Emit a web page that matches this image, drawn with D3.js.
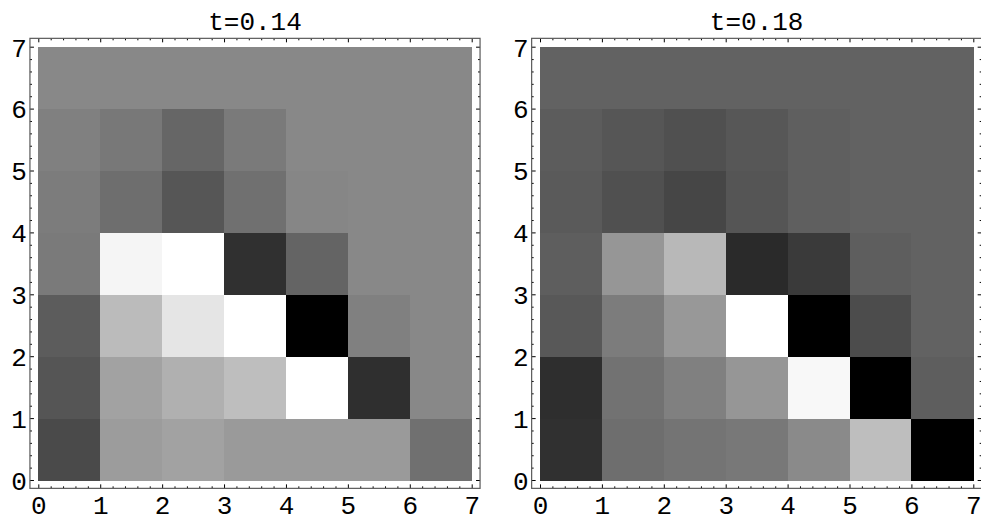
<!DOCTYPE html>
<html><head><meta charset="utf-8">
<script src="https://cdn.jsdelivr.net/npm/d3@7"></script>
<style>body{margin:0;background:#fff}svg{display:block}</style>
</head><body>
<svg id="chart" width="981" height="525"></svg>
<script>
// Panel titles
const titles = ["t=0.14", "t=0.18"];
// Tick labels
const tickValues = [0, 1, 2, 3, 4, 5, 6, 7];
// Gray levels (0 = black, 255 = white); rows listed from y=0 (bottom) up to y=6 (top), columns x=0..6
const grayT014 = [
  [74, 156, 162, 154, 154, 154, 112],
  [85, 162, 176, 190, 255, 47, 136],
  [92, 187, 229, 255, 0, 128, 136],
  [122, 245, 255, 48, 100, 136, 136],
  [124, 110, 86, 112, 134, 136, 136],
  [128, 120, 102, 122, 136, 136, 136],
  [136, 136, 136, 136, 136, 136, 136]
];
const grayT018 = [
  [48, 110, 116, 120, 138, 190, 0],
  [46, 114, 128, 150, 248, 0, 94],
  [88, 124, 152, 255, 0, 76, 98],
  [94, 150, 184, 42, 58, 94, 98],
  [90, 80, 70, 85, 95, 98, 98],
  [92, 86, 80, 87, 95, 98, 98],
  [98, 98, 98, 98, 98, 98, 98]
];
const panelsData = [grayT014, grayT018];

const svg = d3.select("#chart");
const FONT = "'Liberation Mono','Courier New',monospace";
const FS = 26;
const color = d3.scaleLinear().domain([0, 255]).range(["#000000", "#ffffff"]);
const panelX = [[38.3, 471.7], [540, 973.3]];
const yRange = [480, 46.7];
const pad = 0.135;

panelsData.forEach((grid, p) => {
  const x = d3.scaleLinear().domain([0, 7]).range(panelX[p]);
  const y = d3.scaleLinear().domain([0, 7]).range(yRange);
  const g = svg.append("g");

  // cells
  const cells = [];
  grid.forEach((row, r) => row.forEach((v, c) => cells.push({r, c, v})));
  g.selectAll("rect.cell").data(cells).join("rect")
    .attr("class", "cell")
    .attr("x", d => x(d.c))
    .attr("y", d => y(d.r + 1))
    .attr("width", d => x(d.c + 1) - x(d.c) + 0.5)
    .attr("height", d => y(d.r) - y(d.r + 1) + 0.5)
    .attr("fill", d => color(d.v))
    .attr("shape-rendering", "crispEdges");

  const fx0 = x(-pad), fx1 = x(7 + pad), fy0 = y(7 + pad), fy1 = y(-pad);

  const minor = d3.range(0, 7.001, 0.2).filter(v => Math.abs(v - Math.round(v)) > 1e-6);

  const mk = (axisFn, scale, transform, labels) => {
    const ax = g.append("g").attr("transform", transform);
    const a1 = axisFn(scale).tickValues(tickValues).tickSizeInner(-4).tickSizeOuter(0)
      .tickPadding(labels ? 10 : 0).tickFormat(labels ? d3.format("d") : () => "");
    ax.call(a1);
    const a2 = axisFn(scale).tickValues(minor).tickSizeInner(-2).tickSizeOuter(0).tickFormat(() => "");
    ax.append("g").call(a2).select(".domain").remove();
    ax.select(".domain").remove();
    ax.selectAll("line").attr("stroke", "#000").attr("stroke-width", 1);
    ax.selectAll("text").attr("font-family", FONT).attr("font-size", FS).attr("fill", "#000");
    return ax;
  };
  const bx = mk(d3.axisBottom, x, `translate(0,${fy1})`, true);
  bx.selectAll("text").attr("dy", "0.71em").attr("y", 7);
  mk(d3.axisTop, x, `translate(0,${fy0})`, false);
  const ly = mk(d3.axisLeft, y, `translate(${fx0},0)`, true);
  ly.selectAll("text").attr("x", -3).attr("dy", "0.36em");
  mk(d3.axisRight, y, `translate(${fx1},0)`, false);

  // frame
  g.append("rect").attr("x", fx0).attr("y", fy0)
    .attr("width", fx1 - fx0).attr("height", fy1 - fy0)
    .attr("fill", "none").attr("stroke", "#5a5a5a").attr("stroke-width", 1.2);

  // title
  g.append("text").attr("x", (fx0 + fx1) / 2).attr("y", 30)
    .attr("text-anchor", "middle").attr("font-family", FONT).attr("font-size", FS)
    .attr("fill", "#000").text(titles[p]);
});
</script>
</body></html>
